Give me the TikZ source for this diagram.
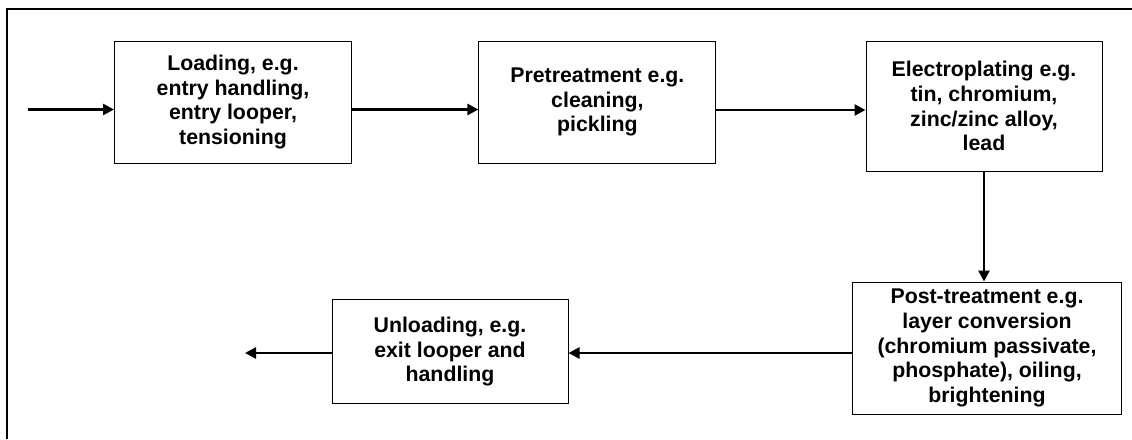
\documentclass[tikz,border=0pt]{standalone}
\usepackage{fontspec}
\setmainfont{Liberation Sans}
\usetikzlibrary{arrows.meta}
\begin{document}
\begin{tikzpicture}[x=1pt, y=-1pt,
		stage/.style = {draw, line width=1pt, align=center, inner sep=0pt,
			font=\bfseries\fontsize{21.3}{24.8}\selectfont},
		flow/.style = {line width=2.6pt, -{Triangle[length=11pt,width=11pt]}}]
			\useasboundingbox (0,0) rectangle (1132,439);
			\draw [line width=2pt] (7,439) -- (7,8.8) -- (1132,8.8);
			\node [stage, minimum width=237pt, minimum height=122pt] (load) at (233,102) {Loading, e.g.\\entry handling,\\entry looper,\\tensioning};
			\node [stage, minimum width=237pt, minimum height=122pt] (pre) at (597.4,102) {Pretreatment e.g.\\cleaning,\\pickling};
			\node [stage, minimum width=236pt, minimum height=130pt] (plate) at (984,106) {Electroplating e.g.\\tin, chromium,\\zinc/zinc alloy,\\lead};
			\node [stage, minimum width=269pt, minimum height=132pt] (post) at (987,348) {Post-treatment e.g.\\layer conversion\\(chromium passivate,\\phosphate), oiling,\\brightening};
			\node [stage, minimum width=236pt, minimum height=104pt] (unload) at (450,351.7) {Unloading, e.g.\\exit looper and\\handling};
			\coordinate (in) at (27.5,109.5);
			\coordinate (out) at (245,353);
			\draw [flow] (in) -- (in -| load.west);
			\draw [flow] ([yshift=-7.5pt]load.east) -- ([yshift=-7.5pt]pre.west);
			\draw [flow] ([yshift=-8pt]pre.east) -- ([yshift=-4pt]plate.west);
			\draw [flow] (plate.south) -- (plate.south |- post.north);
			\draw [flow] ([yshift=-5pt]post.west) -- ([yshift=-1.3pt]unload.east);
			\draw [flow] (unload.west |- out) -- (out);
		\end{tikzpicture}
\end{document}
